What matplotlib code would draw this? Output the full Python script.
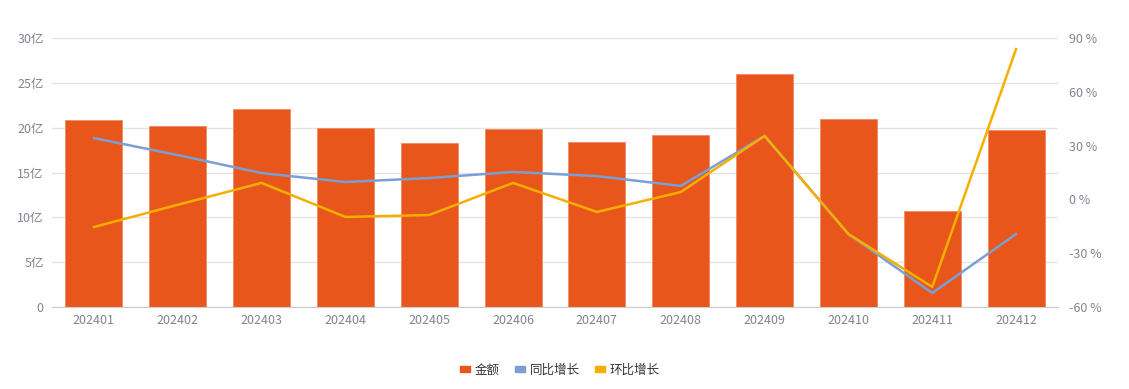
import matplotlib
matplotlib.use("Agg")
import matplotlib.pyplot as plt
from matplotlib.patches import Patch
import numpy as np

plt.rcParams['font.family'] = ['Noto Sans CJK SC', 'DejaVu Sans']

months = ['202401', '202402', '202403', '202404', '202405', '202406',
          '202407', '202408', '202409', '202410', '202411', '202412']
amount = [20.85, 20.2, 22.1, 19.95, 18.3, 19.85, 18.4, 19.2, 26.0, 20.95, 10.7, 19.75]
yoy = [34.2, 24.7, 14.7, 9.7, 11.9, 15.3, 13.0, 7.5, 35.4, -19.3, -52.2, -19.3]
mom = [-15.4, -3.0, 9.2, -9.8, -8.7, 9.2, -7.0, 4.1, 35.4, -19.3, -48.8, 83.8]

bar_c = '#E8561B'
yoy_c = '#7B9FD4'
mom_c = '#F5AF00'
txt_c = '#7F8591'
grid_c = '#E3E3E3'

fig = plt.figure(figsize=(11.29, 3.89), dpi=100)
ax = fig.add_axes([52/1129, 1-307/389, (1058-52)/1129, (307-38)/389])
x = np.arange(len(months))

ax.bar(x, amount, 0.68, color=bar_c, edgecolor='#F08A64', linewidth=0.6, zorder=2)
ax.set_xlim(-0.5, len(months)-0.5)
ax.set_ylim(0, 30)
ax.set_yticks(range(0, 31, 5))
ax.set_yticklabels(['0'] + [f'{v}亿' for v in range(5, 31, 5)])
ax.grid(axis='y', color=grid_c, linewidth=1, zorder=0)
ax.set_axisbelow(True)
ax.set_xticks(x)
ax.set_xticklabels(months)
for s in ['top', 'right', 'left']:
    ax.spines[s].set_visible(False)
ax.spines['bottom'].set_color('#CCCCCC')
ax.tick_params(axis='both', colors=txt_c, labelsize=9, length=0, pad=6)
ax.tick_params(axis='x', pad=5)

ax2 = ax.twinx()
ax2.plot(x, yoy, color=yoy_c, linewidth=1.8, zorder=3)
ax2.plot(x, mom, color=mom_c, linewidth=1.8, zorder=4)
ax2.set_ylim(-60, 90)
ax2.set_yticks(range(-60, 91, 30))
ax2.set_yticklabels([f'{v} %' for v in range(-60, 91, 30)])
for s in ['top', 'right', 'left', 'bottom']:
    ax2.spines[s].set_visible(False)
ax2.tick_params(axis='y', colors=txt_c, labelsize=9, length=0, pad=8)

handles = [Patch(color=bar_c), Patch(color=yoy_c), Patch(color=mom_c)]
fig.legend(handles, ['金额', '同比增长', '环比增长'], loc='center',
           bbox_to_anchor=(560/1129, 1-370/389), ncol=3, frameon=False,
           fontsize=9, handlelength=0.8, handleheight=0.4, handletextpad=0.4,
           columnspacing=1.2, labelcolor='#333333')

fig.savefig('out.png', dpi=100)
